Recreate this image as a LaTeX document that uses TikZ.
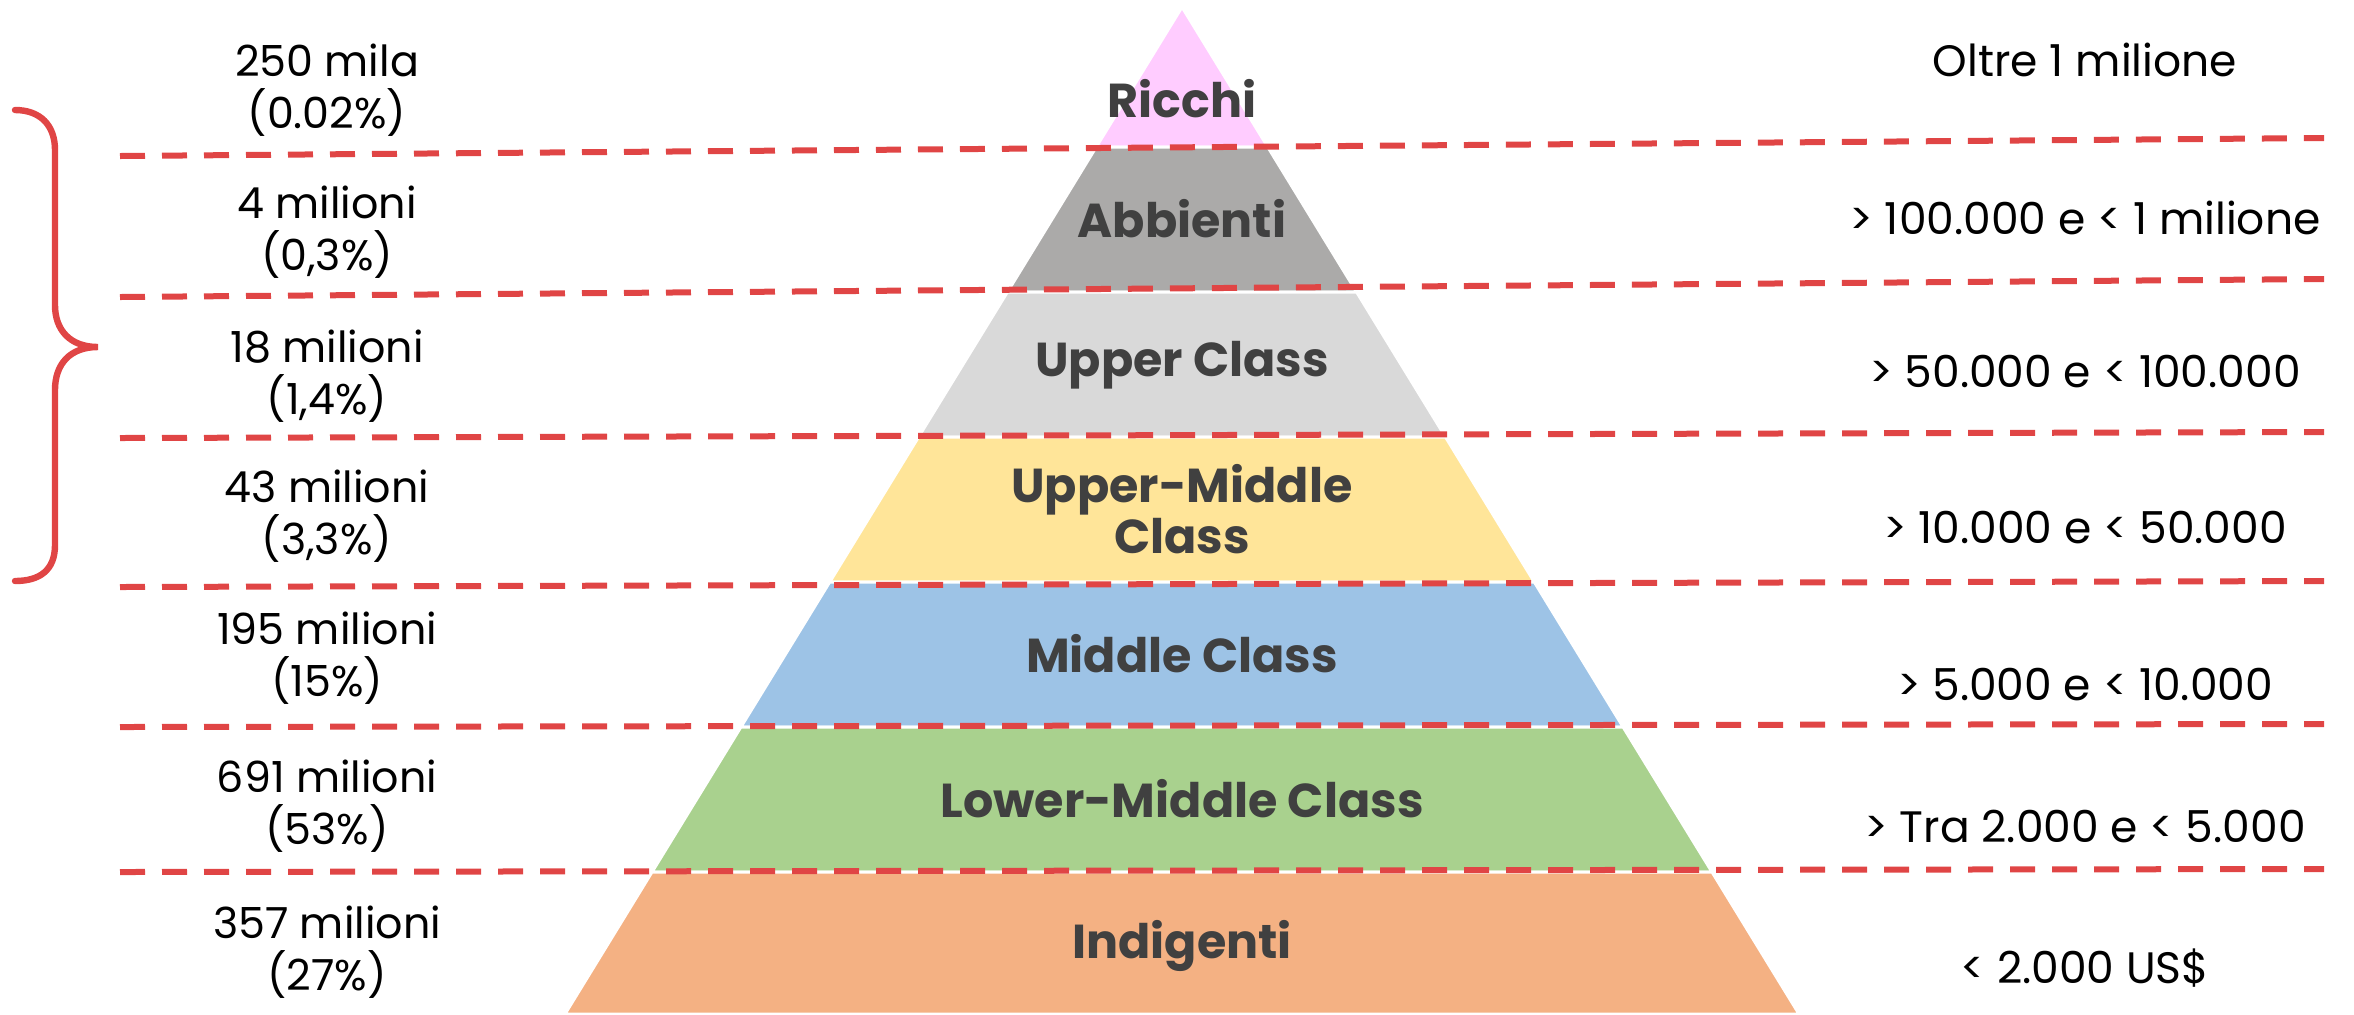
\documentclass[tikz,border=0pt]{standalone}
\usepackage{fontspec}
\setmainfont{Poppins}
\definecolor{redl}{RGB}{224,69,69}
\definecolor{darktxt}{RGB}{64,64,64}
\definecolor{cRicchi}{RGB}{255,204,255}
\definecolor{cAbb}{RGB}{171,170,169}
\definecolor{cUpper}{RGB}{217,217,217}
\definecolor{cUM}{RGB}{255,229,153}
\definecolor{cMid}{RGB}{157,195,230}
\definecolor{cLM}{RGB}{169,209,142}
\definecolor{cInd}{RGB}{244,177,131}
\begin{document}
\begin{tikzpicture}[x=0.5pt,y=-0.5pt,
  band/.style={draw=white,line width=1.5pt},
  lvl/.style={font=\fontsize{23.8}{25.5}\selectfont\bfseries, text=darktxt, align=center},
  lefttxt/.style={font=\fontsize{21.4}{26}\selectfont, align=center, text=black},
  righttxt/.style={font=\fontsize{22}{26}\selectfont, text=black},
  guide/.style={draw=redl, line width=3pt, dash pattern=on 12.5pt off 8.5pt},
  bracestyle/.style={draw=redl, line width=3.2pt, line cap=round}]
\useasboundingbox (0,0) rectangle (2354,1014);
% pyramid bands
\fill[cRicchi,band] (1182,7) -- (1267.8,147) -- (1096.2,147) -- cycle;
\fill[cAbb,band] (1096.2,147) -- (1267.8,147) -- (1356.6,292) -- (1007.4,292) -- cycle;
\fill[cUpper,band] (1007.4,292) -- (1356.6,292) -- (1445.5,437) -- (918.5,437) -- cycle;
\fill[cUM,band] (918.5,437) -- (1445.5,437) -- (1534.3,582) -- (829.7,582) -- cycle;
\fill[cMid,band] (829.7,582) -- (1534.3,582) -- (1623.1,727) -- (740.9,727) -- cycle;
\fill[cLM,band] (740.9,727) -- (1623.1,727) -- (1712,872) -- (652,872) -- cycle;
\fill[cInd,band] (652,872) -- (1712,872) -- (1799,1014) -- (565,1014) -- cycle;
% dashed guide lines
\coordinate (l1) at (120,156); \coordinate (r1) at (2324,138);
\coordinate (l2) at (120,297); \coordinate (r2) at (2324,279);
\coordinate (l3) at (120,438); \coordinate (r3) at (2324,432);
\coordinate (l4) at (120,587); \coordinate (r4) at (2324,581);
\coordinate (l5) at (120,727); \coordinate (r5) at (2324,724);
\coordinate (l6) at (120,872); \coordinate (r6) at (2324,869);
\foreach \i in {1,...,6} {\draw[guide] (l\i) -- (r\i);}
% brace
\coordinate (btop) at (15,110);
\coordinate (btip) at (98,347);
\coordinate (bbot) at (15,581);
\draw[bracestyle] (btop) .. controls (40,110) and (55,125) .. (55,150) -- (55,305)
  .. controls (55,330) and (70,347) .. (btip)
  .. controls (70,347) and (55,364) .. (55,390) -- (55,545)
  .. controls (55,570) and (40,581) .. (bbot);
% band labels
\node[lvl] (t1) at (1182,99) {Ricchi};
\node[lvl] (t2) at (1182,219) {Abbienti};
\node[lvl] (t3) at (1182,365) {Upper Class};
\node[lvl] (t4) at (1182,509) {Upper-Middle\\Class};
\node[lvl] (t5) at (1182,654) {Middle Class};
\node[lvl] (t6) at (1182,799) {Lower-Middle Class};
\node[lvl] (t7) at (1182,946) {Indigenti};
% left labels
\node[lefttxt] (p1) at (327,90) {250 mila\\(0.02\%)};
\node[lefttxt] (p2) at (327,232) {4 milioni\\(0,3\%)};
\node[lefttxt] (p3) at (327,376) {18 milioni\\(1,4\%)};
\node[lefttxt] (p4) at (327,516) {43 milioni\\(3,3\%)};
\node[lefttxt] (p5) at (327,658) {195 milioni\\(15\%)};
\node[lefttxt] (p6) at (327,806) {691 milioni\\(53\%)};
\node[lefttxt] (p7) at (327,952) {357 milioni\\(27\%)};
% right labels
\node[righttxt] (r1t) at (2085,60) {Oltre 1 milione};
\node[righttxt] (r2t) at (2085,218) {> 100.000 e < 1 milione};
\node[righttxt] (r3t) at (2085,372) {> 50.000 e < 100.000};
\node[righttxt] (r4t) at (2085,528) {> 10.000 e < 50.000};
\node[righttxt] (r5t) at (2085,685) {> 5.000 e < 10.000};
\node[righttxt] (r6t) at (2085,826) {> Tra 2.000 e < 5.000};
\node[righttxt] (r7t) at (2085,968) {< 2.000 US\$};
\end{tikzpicture}
\end{document}
